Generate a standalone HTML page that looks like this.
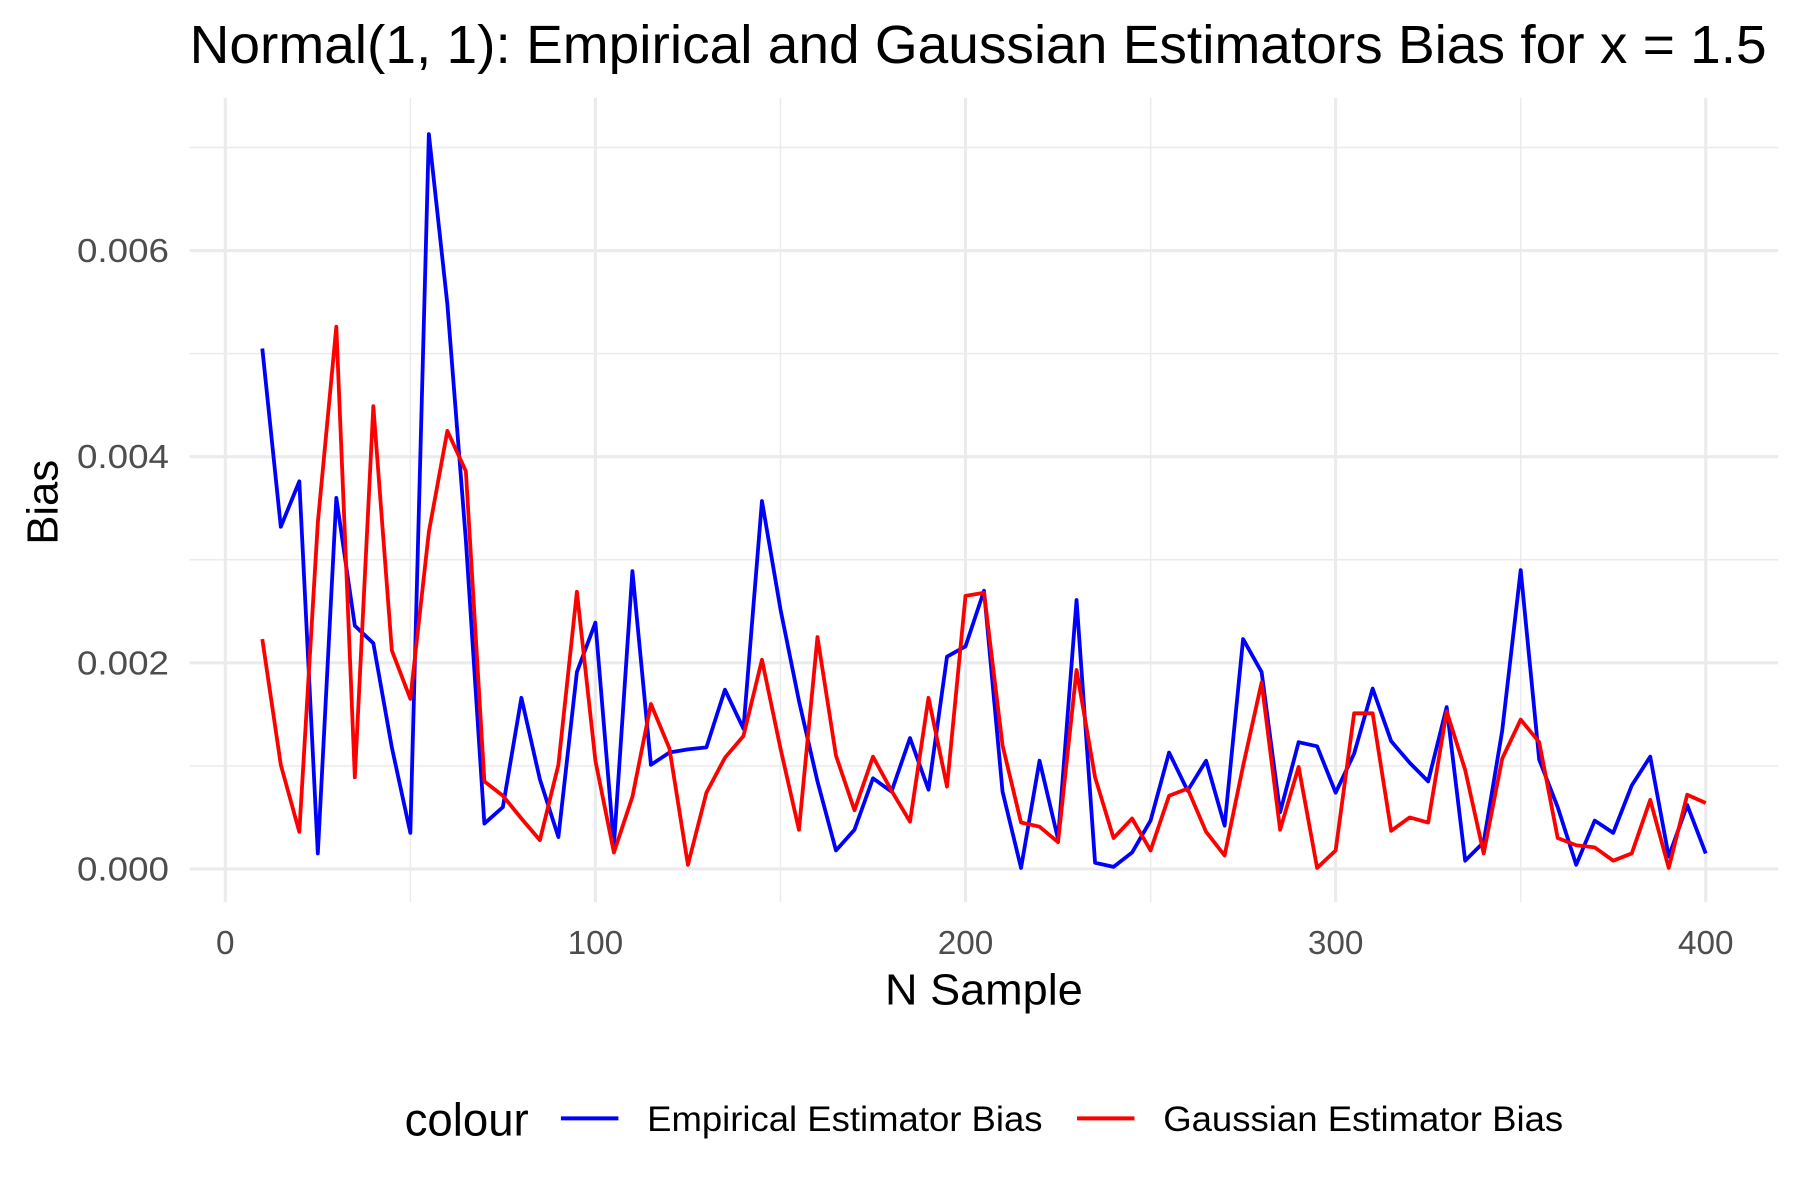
<!DOCTYPE html>
<html><head><meta charset="utf-8"><style>html,body{margin:0;padding:0;background:#fff}svg{display:block}text{font-family:"Liberation Sans",sans-serif}</style></head>
<body>
<svg id="chart" width="1800" height="1200" viewBox="0 0 1566 1044" xmlns="http://www.w3.org/2000/svg">
<g id="grid"></g>
<g id="axes"></g>
<g id="series"></g>
<text x="165" y="55" font-size="46.5" fill="#000" textLength="1372" lengthAdjust="spacingAndGlyphs">Normal(1, 1): Empirical and Gaussian Estimators Bias for x = 1.5</text>
<text x="856" y="874" font-size="38" text-anchor="middle" fill="#000" textLength="172" lengthAdjust="spacingAndGlyphs">N Sample</text>
<text transform="translate(50,437) rotate(-90)" font-size="38" text-anchor="middle" fill="#000">Bias</text>
<g>
<text x="352" y="988" font-size="40" fill="#000" textLength="108" lengthAdjust="spacingAndGlyphs">colour</text>
<g>
<line x1="488" y1="973" x2="538" y2="973" stroke="#0000ff" stroke-width="3.5"/>
<text x="563" y="984" font-size="31" fill="#000" textLength="344" lengthAdjust="spacingAndGlyphs">Empirical Estimator Bias</text></g>
<g>
<line x1="937" y1="973" x2="987" y2="973" stroke="#ff0000" stroke-width="3.5"/>
<text x="1012" y="984" font-size="31" fill="#000" textLength="348" lengthAdjust="spacingAndGlyphs">Gaussian Estimator Bias</text></g>
</g>
</svg>
<script>
const nSamples = [];
for (let n = 10; n <= 400; n += 5) nSamples.push(n);
const empiricalBias = [0.00505,0.00332,0.00376,0.00015,0.0036,0.00236,0.00219,0.00118,0.00035,0.00713,0.00548,0.00319,0.00044,0.0006,0.00166,0.00087,0.00031,0.00191,0.00239,0.00023,0.00289,0.00101,0.00113,0.00116,0.00118,0.00174,0.00136,0.00357,0.00252,0.00163,0.00085,0.00018,0.00038,0.00088,0.00075,0.00127,0.00077,0.00206,0.00216,0.0027,0.00075,0.00001,0.00105,0.00029,0.00261,0.00006,0.00002,0.00016,0.00047,0.00113,0.00076,0.00105,0.00042,0.00223,0.00191,0.00055,0.00123,0.00119,0.00074,0.00112,0.00175,0.00124,0.00103,0.00085,0.00157,0.00008,0.00026,0.00134,0.0029,0.00106,0.0006,0.00004,0.00047,0.00035,0.00081,0.00109,0.00012,0.00062,0.00015];
const gaussianBias = [0.00223,0.00101,0.00036,0.00336,0.00526,0.00089,0.00449,0.00212,0.00165,0.00327,0.00425,0.00386,0.00085,0.00071,0.00049,0.00028,0.00101,0.00269,0.00105,0.00016,0.0007,0.0016,0.00117,0.00004,0.00074,0.00108,0.00129,0.00203,0.00117,0.00038,0.00225,0.0011,0.00057,0.00109,0.00076,0.00046,0.00166,0.0008,0.00265,0.00268,0.0012,0.00045,0.00041,0.00026,0.00193,0.00089,0.0003,0.00049,0.00018,0.00071,0.00078,0.00036,0.00013,0.001,0.00181,0.00038,0.00099,0.00001,0.00018,0.00151,0.00151,0.00037,0.0005,0.00045,0.00153,0.00096,0.00015,0.00107,0.00145,0.00123,0.0003,0.00023,0.00021,0.00008,0.00015,0.00067,0.00001,0.00072,0.00064];
const xTicks = [0,100,200,300,400];
const xMinor = [50,150,250,350];
const yTicks = [0,0.002,0.004,0.006];
const yMinor = [0.001,0.003,0.005,0.007];
const yTickLabels = ["0.000","0.002","0.004","0.006"];

const NS='http://www.w3.org/2000/svg';
const X0=196, XS=(1484-196)/400, Y0=756, YS=89.67/0.001;
const PL=165, PR=1547, PT=85, PB=785;
function xs(v){return X0+v*XS;}
function ys(v){return Y0-v*YS;}
function mk(tag,attrs,parent){const e=document.createElementNS(NS,tag);for(const k in attrs)e.setAttribute(k,attrs[k]);parent.appendChild(e);return e;}
const grid=document.getElementById('grid'), axes=document.getElementById('axes'), series=document.getElementById('series');
yMinor.forEach(v=>{const l=mk('line',{x1:PL,x2:PR,y1:ys(v),y2:ys(v),stroke:'#ebebeb','stroke-width':1.3},grid);

});
xMinor.forEach(v=>{const l=mk('line',{x1:xs(v),x2:xs(v),y1:PT,y2:PB,stroke:'#ebebeb','stroke-width':1.3},grid);

});
yTicks.forEach((v,i)=>{const l=mk('line',{x1:PL,x2:PR,y1:ys(v),y2:ys(v),stroke:'#ebebeb','stroke-width':2.7},grid);


const t=mk('text',{x:147,y:ys(v)+10,'font-size':29,'text-anchor':'end',fill:'#4d4d4d',textLength:80,lengthAdjust:'spacingAndGlyphs'},axes);t.textContent=yTickLabels[i];

});
xTicks.forEach(v=>{const l=mk('line',{x1:xs(v),x2:xs(v),y1:PT,y2:PB,stroke:'#ebebeb','stroke-width':2.7},grid);


const t=mk('text',{x:xs(v),y:830,'font-size':29,'text-anchor':'middle',fill:'#4d4d4d'},axes);t.textContent=String(v);

});
function line(vals,color,name){const d=vals.map((v,i)=>(i?'L':'M')+xs(nSamples[i]).toFixed(1)+','+ys(v).toFixed(1)).join('');
const p=mk('path',{d:d,fill:'none',stroke:color,'stroke-width':3.3,'stroke-linejoin':'round'},series);

}
line(empiricalBias,'#0000ff','empirical-bias-line');
line(gaussianBias,'#ff0000','gaussian-bias-line');
</script>
</body></html>
